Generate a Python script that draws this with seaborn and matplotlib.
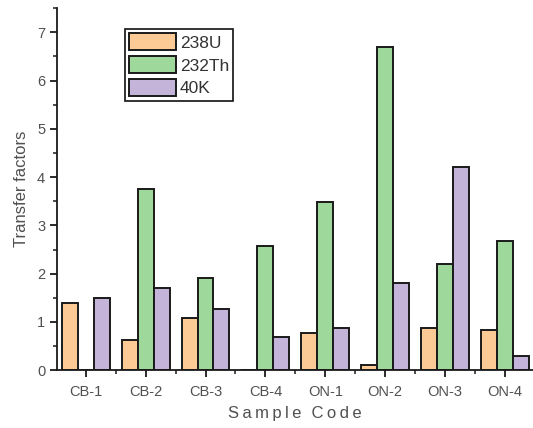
import matplotlib
matplotlib.use("Agg")
import matplotlib.pyplot as plt
from matplotlib.ticker import MultipleLocator, FixedLocator
import seaborn as sns
import pandas as pd

samples = ["CB-1", "CB-2", "CB-3", "CB-4", "ON-1", "ON-2", "ON-3", "ON-4"]
u238 = [1.40, 0.62, 1.08, 0.00, 0.78, 0.10, 0.88, 0.84]
th232 = [0.00, 3.75, 1.90, 2.58, 3.48, 6.70, 2.20, 2.68]
k40 = [1.50, 1.70, 1.27, 0.68, 0.88, 1.80, 4.20, 0.30]
series_names = ["238U", "232Th", "40K"]
colors = ["#FCCA95", "#9ED89B", "#C4B4DA"]

df = pd.DataFrame({
    "Sample": samples * 3,
    "Nuclide": [n for n in series_names for _ in samples],
    "TF": u238 + th232 + k40,
})

sns.set_style("ticks")
plt.rcParams["font.family"] = ["Liberation Sans", "DejaVu Sans"]

fig = plt.figure(figsize=(5.33, 4.28), dpi=100)
ax = fig.add_axes([0.107, 0.135, 0.893, 0.846])

sns.barplot(data=df, x="Sample", y="TF", hue="Nuclide", order=samples,
            hue_order=series_names, palette=colors, saturation=1, width=0.8,
            edgecolor="#1a1a1a", linewidth=1.4, errorbar=None, ax=ax)

ax.set_xlim(-0.48, 7.47)
ax.set_ylim(0, 7.5)
ax.yaxis.set_major_locator(MultipleLocator(1))
ax.yaxis.set_minor_locator(MultipleLocator(0.5))
ax.xaxis.set_minor_locator(FixedLocator([i + 0.5 for i in range(-1, 8)]))

for s in ["top", "right"]:
    ax.spines[s].set_visible(False)
for s in ["left", "bottom"]:
    ax.spines[s].set_linewidth(1.3)
    ax.spines[s].set_color("#1a1a1a")

ax.tick_params(axis="both", which="major", direction="out", length=5, width=1.3,
               color="#1a1a1a", labelsize=10.5, labelcolor="#505050")
ax.tick_params(axis="both", which="minor", direction="out", length=3, width=1.1,
               color="#1a1a1a")
ax.tick_params(axis="x", which="major", pad=6)

thin = "\u2009"
ax.set_xlabel(thin.join("Sample") + thin * 3 + thin.join("Code"),
              fontsize=12, color="#505050", labelpad=5)
ax.set_ylabel("Transfer factors", fontsize=12, color="#505050", labelpad=6)

leg = ax.legend(loc="upper left", bbox_to_anchor=(0.143, 0.942), frameon=True,
                fancybox=False, framealpha=1, edgecolor="#111111", fontsize=12.5,
                handlelength=2.7, handleheight=1.1, handletextpad=0.2,
                labelspacing=0.32, borderpad=0.25, borderaxespad=0)
leg.get_frame().set_linewidth(1.2)
for t in leg.get_texts():
    t.set_color("#333333")

fig.savefig("out.png", dpi=100)
